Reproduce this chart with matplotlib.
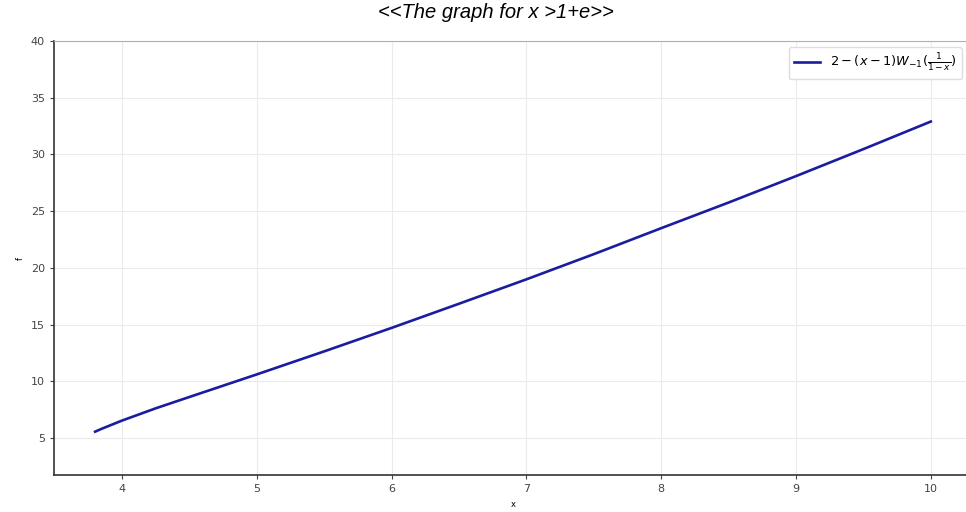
import matplotlib
matplotlib.use('Agg')
import matplotlib.pyplot as plt
import numpy as np

# values
x_vals = [3.8, 3.85, 3.9, 4.0, 4.25, 4.5, 5.0, 5.5, 6.0, 6.5, 7.0, 7.5, 8.0, 8.5, 9.0, 9.5, 10.0]
f_vals = [5.56, 5.82, 6.06, 6.54, 7.62, 8.62, 10.61, 12.64, 14.71, 16.84, 18.99, 21.21, 23.5, 25.76, 28.09, 30.47, 32.9]

x_ticks = [4, 5, 6, 7, 8, 9, 10]
y_ticks = [5, 10, 15, 20, 25, 30, 35, 40]

fig = plt.figure(figsize=(9.66, 5.12), dpi=100)
ax = fig.add_axes([54/966, 37/512, (972.6-54)/966, (475-41)/512])

ax.plot(x_vals, f_vals, color='#1c1ca0', linewidth=1.9,
        label=r'$2-(x-1)W_{-1}(\frac{1}{1-x})$')

ax.set_xlim(3.495, 10.31)
ax.set_ylim(1.74, 40)
ax.set_xticks(x_ticks)
ax.set_yticks(y_ticks)
ax.grid(True, color='#ebebeb', linewidth=0.8)
ax.tick_params(labelsize=8, colors='#444444', length=3, width=0.8)

for s in ['left', 'bottom']:
    ax.spines[s].set_color('#333333')
    ax.spines[s].set_linewidth(1.2)
ax.spines['top'].set_color('#b0b0b0')
ax.spines['right'].set_visible(False)

ax.set_xlabel('x', fontsize=6)
ax.set_ylabel('f', fontsize=6)

ax.legend(loc='upper right', bbox_to_anchor=(962/966, 1 - 47/512),
          bbox_transform=fig.transFigure, borderaxespad=0, fontsize=9.3,
          framealpha=1, edgecolor='#dddddd', handlelength=2.0)

fig.text(0.513, 1 - 13/512, '<<The graph for x >1+e>>', ha='center', va='center',
         fontsize=14.5, style='italic', family='Liberation Sans')

plt.savefig('out.png', dpi=100)
